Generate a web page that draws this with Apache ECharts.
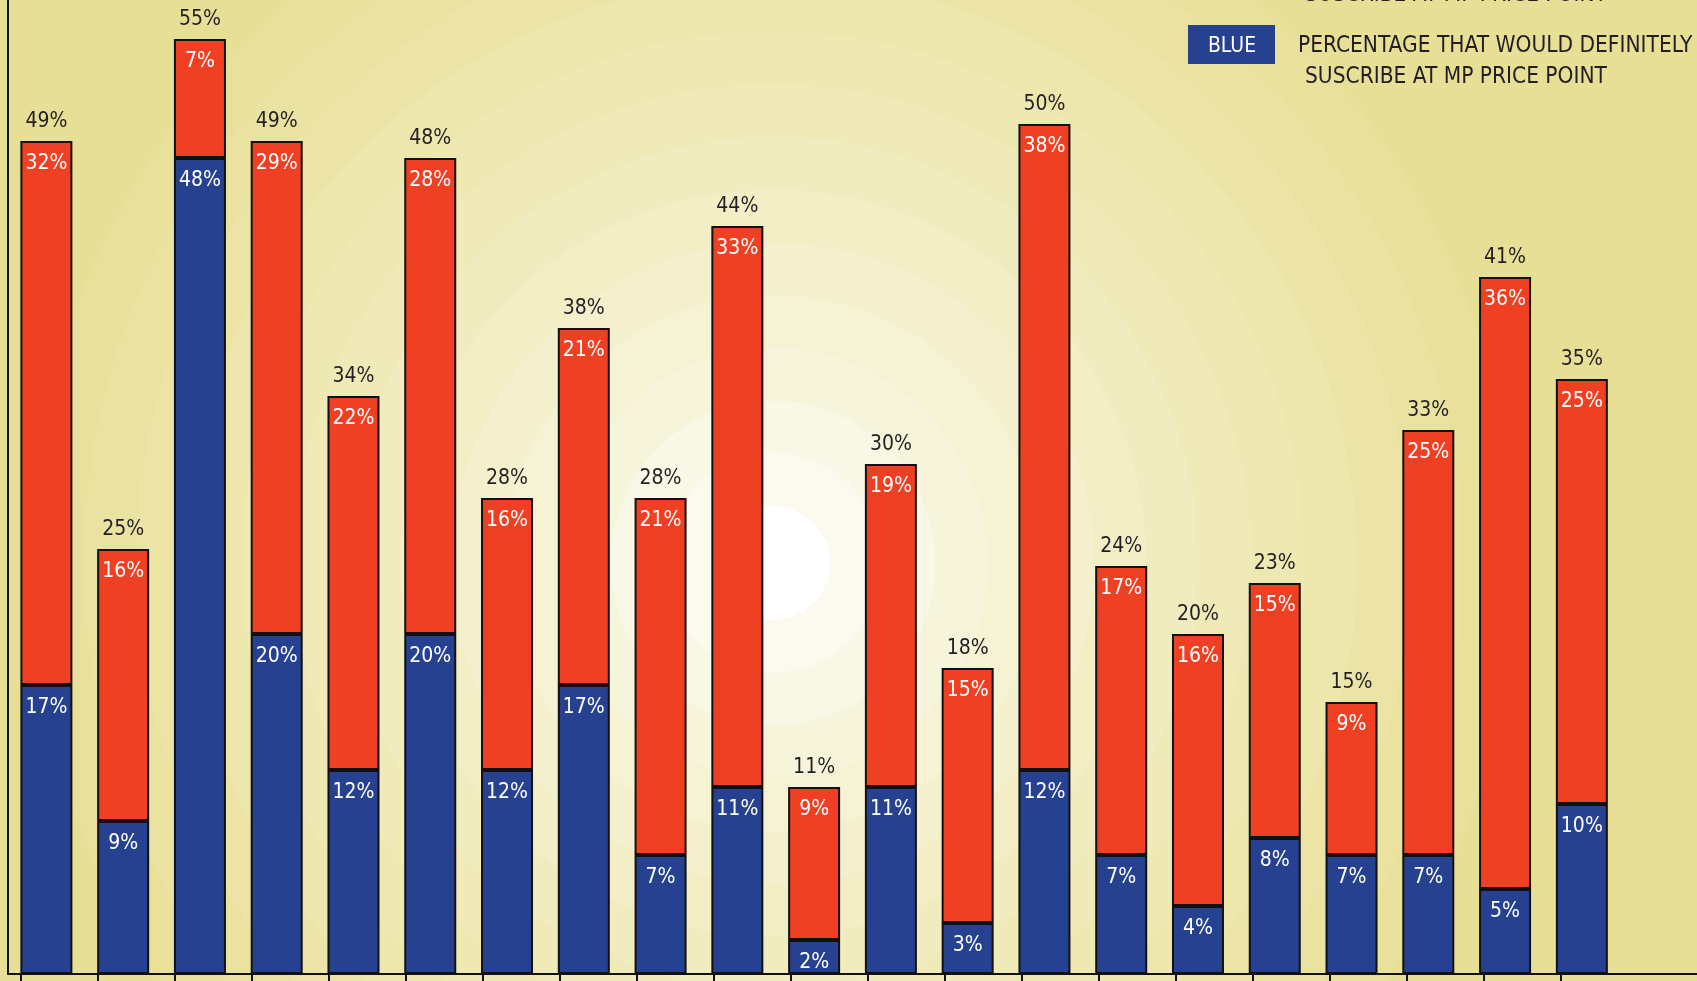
<!DOCTYPE html>
<html>
<head>
<meta charset="utf-8">
<title>MP price point</title>
<script src="https://cdn.jsdelivr.net/npm/echarts@6/dist/echarts.min.js"></script>
<style>
  html, body { margin: 0; padding: 0; }
  #chart { width: 1697px; height: 981px; }
</style>
</head>
<body>
<div id="chart"></div>
<script>
// values (percent)
var categories = ['1', '2', '3', '4', '5', '6', '7', '8', '9', '10', '11',
                  '12', '13', '14', '15', '16', '17', '18', '19', '20', '21'];
var blueValues = [17, 9, 48, 20, 12, 20, 12, 17, 7, 11, 2, 11, 3, 12, 7, 4, 8, 7, 7, 5, 10];
var redValues  = [32, 16, 7, 29, 22, 28, 16, 21, 21, 33, 9, 19, 15, 38, 17, 16, 15, 9, 25, 36, 25];
var totalValues = [49, 25, 55, 49, 34, 48, 28, 38, 28, 44, 11, 30, 18, 50, 24, 20, 23, 15, 33, 41, 35];

var FONT = "'DejaVu Sans Condensed', 'Liberation Sans Narrow', sans-serif";
var BLUE = '#26418F';
var RED = '#EF4023';
var INK = '#231F20';

// stepped rings of the backdrop
var ringStops = [];
var nRings = 14, outer = [232, 223, 150];
for (var k = 0; k <= nRings; k++) {
    var t = Math.pow(k / nRings, 0.72);
    var c = 'rgb(' + outer.map(function (o) { return Math.round(255 - (255 - o) * t); }).join(',') + ')';
    var r0 = k === 0 ? 0 : (57 + 52.7 * (k - 1)) / 1000;
    var r1 = k === nRings ? 1 : (57 + 52.7 * k) / 1000;
    ringStops.push({ offset: r0, color: c }, { offset: r1, color: c });
}

var chart = echarts.init(document.getElementById('chart'));

var barLabel = {
    show: true,
    position: 'insideTop',
    distance: 12,
    color: '#fff',
    fontFamily: FONT,
    fontSize: 21,
    formatter: '{c}%'
};

var option = {
    animation: false,
    backgroundColor: {
        type: 'radial', x: 773, y: 563, r: 1000, global: true,
        colorStops: ringStops
    },
    grid: [
        { left: 8, top: 0, bottom: 7, width: 1694 },
        { left: 21, top: 0, bottom: 7, width: 1540 }
    ],
    xAxis: [{
        type: 'category',
        gridIndex: 0,
        data: categories.concat(['']),
        axisLine: { lineStyle: { color: '#111', width: 2 } },
        axisTick: { show: false },
        axisLabel: { show: false }
    }, {
        // ticks sit at the left edge of each bar
        type: 'category',
        gridIndex: 1,
        boundaryGap: false,
        data: categories,
        axisLine: { show: false },
        axisTick: { show: true, length: 12, lineStyle: { color: '#111', width: 2 } },
        axisLabel: { show: false }
    }],
    yAxis: [{
        type: 'value',
        gridIndex: 0,
        min: 0,
        max: 57.3,
        axisLine: { show: true, lineStyle: { color: '#111', width: 2 } },
        axisTick: { show: false },
        axisLabel: { show: false },
        splitLine: { show: false }
    }, {
        type: 'value',
        gridIndex: 1,
        min: 0,
        max: 57.3,
        show: false
    }],
    series: [{
        name: 'BLUE',
        type: 'bar',
        stack: 'mp',
        stackStrategy: 'all',
        barWidth: 52,
        data: blueValues,
        itemStyle: { color: BLUE, borderColor: '#111', borderWidth: 2 },
        label: barLabel
    }, {
        name: 'RED',
        type: 'bar',
        stack: 'mp',
        stackStrategy: 'all',
        barWidth: 52,
        data: redValues,
        itemStyle: { color: RED, borderColor: '#111', borderWidth: 2 },
        label: barLabel
    }, {
        name: 'TOTAL',
        type: 'bar',
        stack: 'mp',
        stackStrategy: 'all',
        barWidth: 52,
        data: totalValues.map(function () { return 0; }),
        itemStyle: { color: 'transparent', borderWidth: 0 },
        label: {
            show: true,
            position: 'top',
            distance: 9,
            color: INK,
            fontFamily: FONT,
            fontSize: 21,
            formatter: function (p) { return totalValues[p.dataIndex] + '%'; }
        }
    }],
    graphic: [
        { type: 'text', x: 1305, y: -4.5, style: { text: 'SUSCRIBE AT MP PRICE POINT', fill: INK, font: '22.5px ' + FONT, textVerticalAlign: 'middle' } },
        { type: 'rect', shape: { x: 1188, y: 25, width: 87, height: 39 }, style: { fill: BLUE } },
        { type: 'text', x: 1232, y: 46.5, style: { text: 'BLUE', fill: '#fff', font: '21px ' + FONT, textAlign: 'center', textVerticalAlign: 'middle' } },
        { type: 'text', x: 1298, y: 46.5, style: { text: 'PERCENTAGE THAT WOULD DEFINITELY', fill: INK, font: '22.5px ' + FONT, textVerticalAlign: 'middle' } },
        { type: 'text', x: 1305, y: 77, style: { text: 'SUSCRIBE AT MP PRICE POINT', fill: INK, font: '22.5px ' + FONT, textVerticalAlign: 'middle' } }
    ]
};

chart.setOption(option);
</script>
</body>
</html>
